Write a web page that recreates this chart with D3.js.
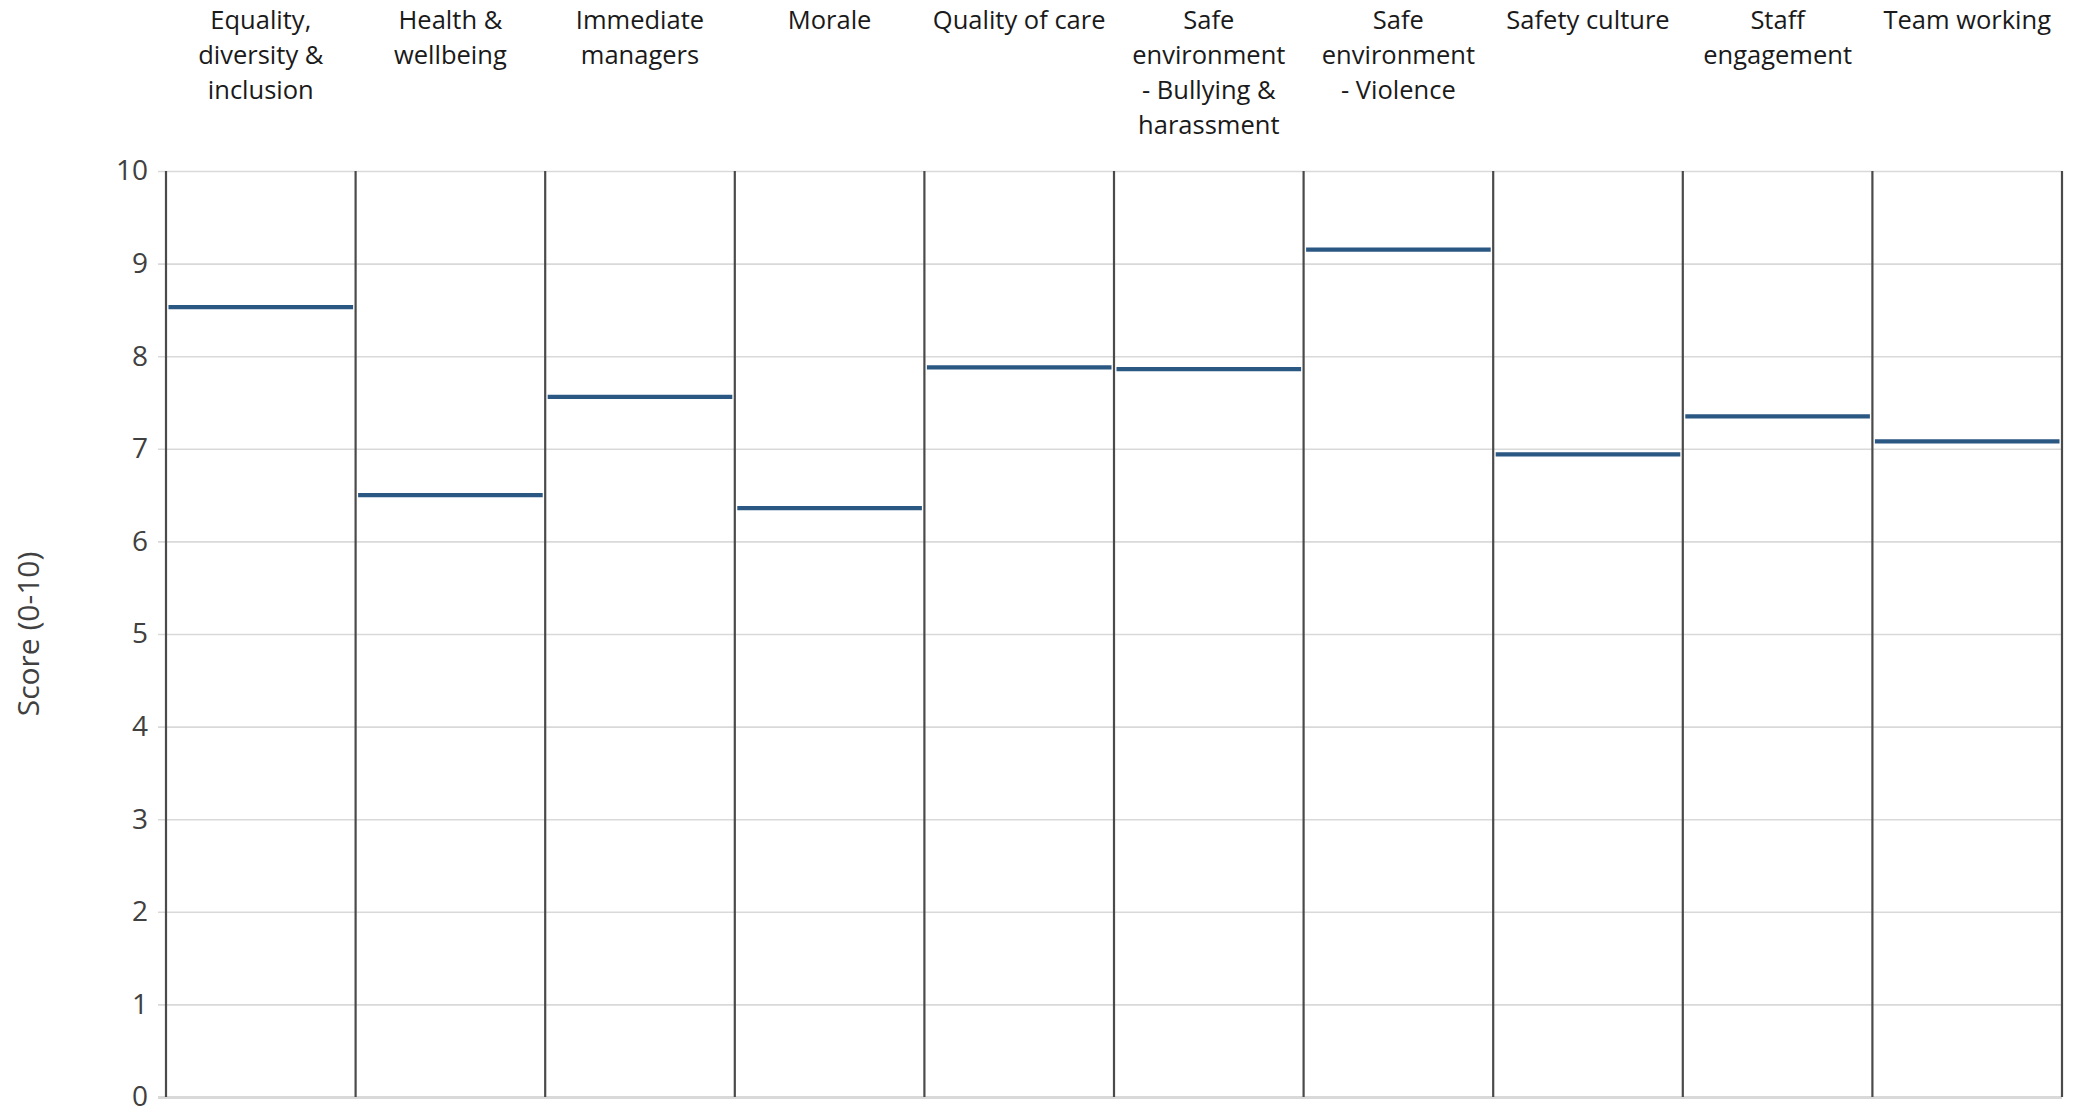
<!doctype html>
<html>
<head>
<title>Score by theme</title>
<style type="text/css">
body { margin: 0; background: #fff; }
svg { display: block; font-family: "Open Sans", "Noto Sans", sans-serif; }
</style>
<script src="https://cdnjs.cloudflare.com/ajax/libs/d3/7.8.5/d3.min.js"></script>
</head>
<body>
<script type="text/javascript">
var width = 2073;
var height = 1112;

// categories, shown as wrapped header lines
var categories = ["Equality, diversity & inclusion", "Health & wellbeing", "Immediate managers",
	"Morale", "Quality of care", "Safe environment - Bullying & harassment",
	"Safe environment - Violence", "Safety culture", "Staff engagement", "Team working"];
var labelLines = [
	["Equality,", "diversity &", "inclusion"],
	["Health &", "wellbeing"],
	["Immediate", "managers"],
	["Morale"],
	["Quality of care"],
	["Safe", "environment", "- Bullying &", "harassment"],
	["Safe", "environment", "- Violence"],
	["Safety culture"],
	["Staff", "engagement"],
	["Team working"]
];
// scores (0-10)
var scores = [8.53, 6.50, 7.56, 6.36, 7.88, 7.86, 9.15, 6.94, 7.35, 7.08];
var yTicks = [0, 1, 2, 3, 4, 5, 6, 7, 8, 9, 10];

var margin = {top: 171, right: 11, bottom: 15, left: 166};
var plotW = width - margin.left - margin.right;
var plotH = height - margin.top - margin.bottom;

var svg = d3.select("body").append("svg")
	.attr("width", width)
	.attr("height", height);

var x = d3.scaleBand()
	.domain(categories)
	.range([0, plotW])
	.padding(0);

var y = d3.scaleLinear()
	.domain([0, 10])
	.range([plotH, 0]);

var g = svg.append("g")
	.attr("transform", "translate(" + margin.left + "," + margin.top + ")");

// horizontal gridlines + ticks
var yAxis = g.append("g")
	.call(d3.axisLeft(y)
		.tickValues(yTicks)
		.tickSize(-plotW)
		.tickSizeOuter(0)
		.tickPadding(18));
yAxis.select(".domain").remove();
yAxis.selectAll(".tick line")
	.attr("x1", -8)
	.style("stroke", "#d9d9d9")
	.style("stroke-width", function(d) { return d === 0 ? 3 : 1.6; });
yAxis.selectAll(".tick text")
	.style("font-size", "28px")
	.style("fill", "#404040")
	.style("font-family", "'Open Sans', sans-serif");

// vertical column separators
var seps = d3.range(categories.length + 1);
g.selectAll(".sep")
	.data(seps)
	.enter()
	.append("line")
	.classed("sep", true)
	.attr("x1", function(i) { return i < categories.length ? x(categories[i]) : plotW; })
	.attr("x2", function(i) { return i < categories.length ? x(categories[i]) : plotW; })
	.attr("y1", y(10))
	.attr("y2", y(0))
	.style("stroke", "#4a4a4a")
	.style("stroke-width", 2.2);

// score lines
g.selectAll(".score")
	.data(scores)
	.enter()
	.append("line")
	.classed("score", true)
	.attr("x1", function(d, i) { return x(categories[i]) + 2.5; })
	.attr("x2", function(d, i) { return x(categories[i]) + x.bandwidth() - 2.5; })
	.attr("y1", function(d) { return y(d); })
	.attr("y2", function(d) { return y(d); })
	.style("stroke", "#2b5783")
	.style("stroke-width", 4.2);

// column headers
var heads = svg.selectAll(".head")
	.data(categories)
	.enter()
	.append("text")
	.classed("head", true)
	.attr("text-anchor", "middle")
	.attr("y", 29)
	.style("font-size", "25.5px")
	.style("fill", "#1a1a1a");

heads.selectAll("tspan")
	.data(function(d, i) { return labelLines[i]; })
	.enter()
	.append("tspan")
	.attr("x", function() {
		var c = d3.select(this.parentNode).datum();
		return margin.left + x(c) + x.bandwidth() / 2;
	})
	.attr("dy", function(d, j) { return j === 0 ? 0 : 35; })
	.text(function(d) { return d; });

// y axis title
svg.append("text")
	.attr("transform", "translate(39," + (margin.top + plotH / 2) + ") rotate(-90)")
	.attr("text-anchor", "middle")
	.style("font-size", "30px")
	.style("fill", "#404040")
	.text("Score (0-10)");
</script>
</body>
</html>
